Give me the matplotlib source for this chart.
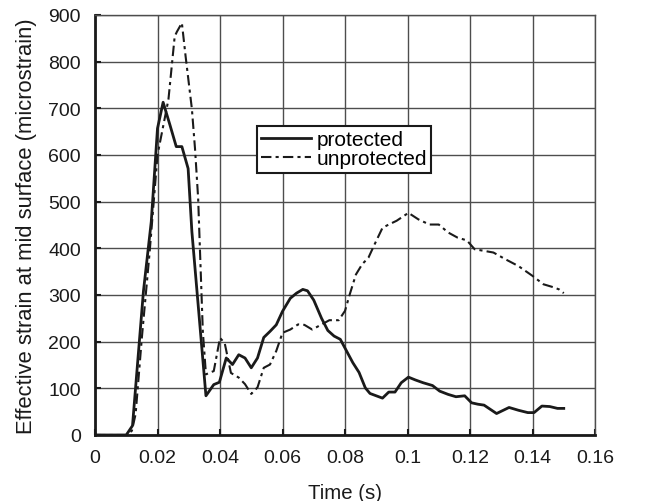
import matplotlib
matplotlib.use("Agg")
import matplotlib.pyplot as plt

plt.rcParams['font.family'] = ['Liberation Sans', 'DejaVu Sans']

t_prot = [0.0, 0.01, 0.012, 0.0155, 0.018, 0.02, 0.0218, 0.024, 0.026, 0.0278, 0.0298, 0.031,
          0.0355, 0.038, 0.0398, 0.042, 0.044, 0.046, 0.048, 0.05, 0.052, 0.054, 0.056, 0.058,
          0.06, 0.0625, 0.0645, 0.0665, 0.068, 0.07, 0.0725, 0.0745, 0.0765, 0.0785, 0.0805,
          0.0825, 0.0845, 0.0865, 0.088, 0.09, 0.092, 0.094, 0.096, 0.098, 0.1003, 0.1025,
          0.105, 0.108, 0.1103, 0.113, 0.1155, 0.1183, 0.1205, 0.1225, 0.1245, 0.1285, 0.1325,
          0.1355, 0.1385, 0.1405, 0.143, 0.1455, 0.148, 0.15]
v_prot = [0, 0, 20, 308, 457, 657, 713, 664, 618, 618, 571, 436,
          84, 108, 113, 165, 151, 172, 165, 144, 165, 209, 222, 236,
          265, 293, 304, 312, 309, 289, 250, 224, 212, 205, 180,
          155, 134, 101, 89, 84, 79, 92, 92, 112, 124, 118,
          112, 106, 94, 87, 82, 84, 69, 66, 64, 46, 59,
          53, 48, 48, 62, 61, 57, 57]

t_unp = [0.0, 0.01, 0.0118, 0.013, 0.015, 0.0175, 0.02, 0.0235, 0.0255, 0.0262, 0.0278, 0.029,
         0.031, 0.032, 0.033, 0.0345, 0.0355, 0.038, 0.04, 0.0415, 0.0435, 0.046, 0.048, 0.05,
         0.052, 0.054, 0.056, 0.058, 0.06, 0.0625, 0.065, 0.067, 0.0695, 0.072, 0.075, 0.078,
         0.08, 0.0815, 0.0835, 0.0855, 0.0875, 0.0895, 0.092, 0.094, 0.0965, 0.1003, 0.1035,
         0.107, 0.11, 0.113, 0.116, 0.119, 0.1215, 0.125, 0.1275, 0.1315, 0.1355, 0.14,
         0.1435, 0.1465, 0.1485, 0.15]
v_unp = [0, 0, 9, 45, 209, 393, 600, 719, 854, 864, 883, 811,
         699, 614, 508, 223, 130, 137, 208, 197, 133, 123, 109, 88,
         102, 144, 151, 180, 219, 226, 237, 236, 226, 235, 246, 246,
         266, 301, 344, 366, 380, 409, 444, 451, 459, 476, 462,
         451, 451, 434, 423, 417, 398, 394, 391, 376, 362, 341,
         323, 317, 312, 304]

x_ticks = [0, 0.02, 0.04, 0.06, 0.08, 0.1, 0.12, 0.14, 0.16]
x_labels = ['0', '0.02', '0.04', '0.06', '0.08', '0.1', '0.12', '0.14', '0.16']
y_ticks = [0, 100, 200, 300, 400, 500, 600, 700, 800, 900]

fig = plt.figure(figsize=(6.54, 5.02), dpi=100)
ax = fig.add_axes([95/654, 1-436/502, 500/654, 420/502])

ax.plot(t_prot, v_prot, color='#1a1a1a', lw=2.0, label='protected', zorder=3)
ax.plot(t_unp, v_unp, color='#1a1a1a', lw=1.5, dashes=(5, 2, 1.5, 2), label='unprotected', zorder=3)

ax.set_xlim(0, 0.16)
ax.set_ylim(0, 900)
ax.set_xticks(x_ticks)
ax.set_xticklabels(x_labels)
ax.set_yticks(y_ticks)
ax.grid(True, color='#4d4d4d', lw=1.0)
ax.set_axisbelow(True)
ax.tick_params(direction='in', length=4, width=1.5, labelsize=14, colors='#1a1a1a', pad=10)
for s in ['left', 'bottom']:
    ax.spines[s].set_linewidth(2.0)
    ax.spines[s].set_color('#1a1a1a')
for s in ['top', 'right']:
    ax.spines[s].set_linewidth(1.0)
    ax.spines[s].set_color('#4d4d4d')

ax.set_xlabel('Time (s)', fontsize=14.7, color='#1a1a1a', labelpad=12)
ax.set_ylabel('Effective strain at mid surface (microstrain)', fontsize=15.8, color='#1a1a1a', labelpad=8)

leg = ax.legend(loc='upper left', bbox_to_anchor=(0.324, 0.735), fontsize=15, frameon=True,
                fancybox=False, edgecolor='#1a1a1a', framealpha=1, handlelength=2.4,
                borderpad=0.2, labelspacing=0.0, handletextpad=0.25, borderaxespad=0)
leg.get_frame().set_linewidth(1.5)

fig.savefig('out.png', dpi=100)
